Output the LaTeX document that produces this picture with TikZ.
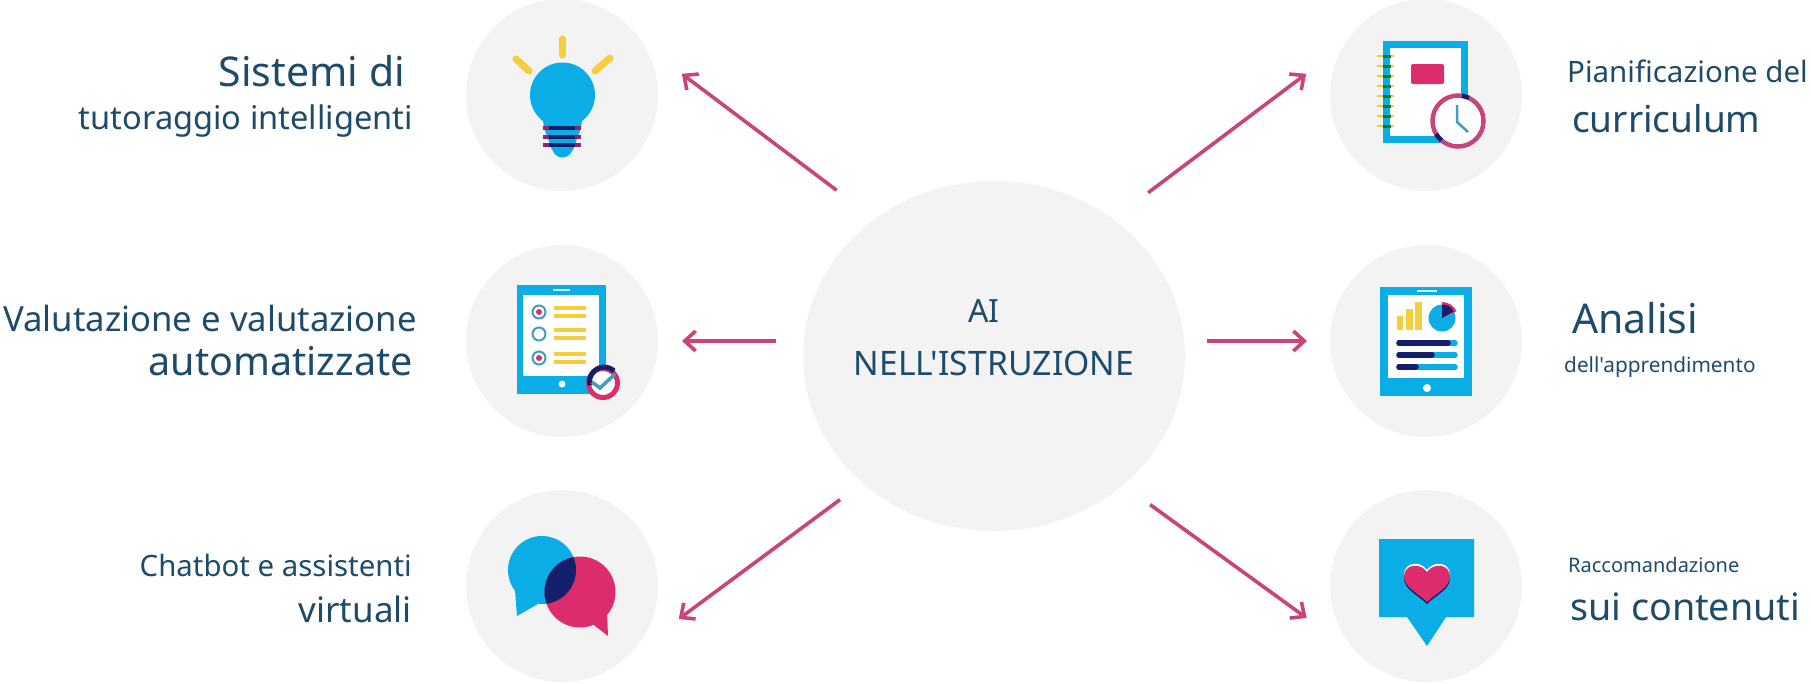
\documentclass[tikz,border=0pt]{standalone}
\usepackage{fontspec}
\setmainfont{Noto Sans}[Ligatures=TeXOff]
\usetikzlibrary{arrows.meta, shapes.geometric}
\definecolor{discgray}{HTML}{F3F3F3}
\definecolor{linkpink}{HTML}{C8447A}
\definecolor{textblue}{HTML}{1E4B6B}
\definecolor{iconblue}{HTML}{0BADE6}
\definecolor{iconpink}{HTML}{DC2C6C}
\definecolor{iconnavy}{HTML}{141F6B}
\definecolor{iconyellow}{HTML}{F4CE3C}
\definecolor{iconteal}{HTML}{3F9DBE}
\newcommand{\heartshape}{(0,-9) .. controls (-7,-19) and (-23,-17) .. (-23,-4) .. controls (-23,6) and (-8,13) .. (0,21) .. controls (8,13) and (23,6) .. (23,-4) .. controls (23,-17) and (7,-19) .. (0,-9) -- cycle}
\newcommand{\sz}[1]{\fontsize{#1}{#1}\selectfont}
\begin{document}
\begin{tikzpicture}[
  x=1pt, y=-1pt,
  disc/.style={circle, fill=discgray, inner sep=0pt, outer sep=0pt, minimum size=192pt},
  hubdisc/.style={ellipse, fill=discgray, inner sep=0pt, outer sep=0pt, minimum width=382pt, minimum height=350pt},
  link/.style={draw=linkpink, line width=3.6pt, -{Straight Barb[length=11pt, width=20pt, line width=3.6pt]}},
  lleft/.style={anchor=base east, inner sep=0pt, text=textblue},
  lright/.style={anchor=base west, inner sep=0pt, text=textblue},
  bar/.style={line width=3.5pt, iconyellow},
  ray/.style={line width=7pt, iconyellow, line cap=round}
]
  \useasboundingbox (0,0) rectangle (1811,683);
  \node[hubdisc] (hub) at (994,356) {};
  \node[disc] (tutor) at (562,95) {};
  \node[disc] (grading) at (562,341) {};
  \node[disc] (chat) at (562,586) {};
  \node[disc] (plan) at (1426,95) {};
  \node[disc] (stats) at (1426,341) {};
  \node[disc] (advice) at (1426,586) {};
  % arrows
  \draw[link, shorten <=48pt, shorten >=47pt] (hub.131) -- (tutor.31.5);
  \draw[link, shorten <=27pt, shorten >=24pt] (grading -| hub.west) -- (grading.east);
  \draw[link, shorten <=28pt, shorten >=75pt] (hub.224.7) -- (chat.306.9);
  \draw[link, shorten <=44pt, shorten >=47pt] (hub.49.5) -- (plan.149.2);
  \draw[link, shorten <=22pt, shorten >=23pt] (stats -| hub.east) -- (stats.west);
  \draw[link, shorten <=33.5pt, shorten >=74.4pt] (hub.315.8) -- (advice.232.7);
  % labels
  \node[inner sep=0pt, anchor=base, text=textblue, font=\sz{32}] (hubtop) at (984,322) {AI};
  \node[inner sep=0pt, anchor=base, text=textblue, font=\sz{33.7}] (hubbot) at (994,375) {NELL'ISTRUZIONE};
  \node[lleft, font=\sz{41}] (tutorA) at (405,86) {Sistemi di};
  \node[lleft, font=\sz{32.6}] (tutorB) at (413,129) {tutoraggio intelligenti};
  \node[lleft, font=\sz{34.7}] (gradingA) at (417,331) {Valutazione e valutazione};
  \node[lleft, font=\sz{39.5}] (gradingB) at (413,375) {automatizzate};
  \node[lleft, font=\sz{29.4}] (chatA) at (412,576) {Chatbot e assistenti};
  \node[lleft, font=\sz{35}] (chatB) at (412,622) {virtuali};
  \node[lright, font=\sz{29.5}] (planA) at (1567,82) {Pianificazione del};
  \node[lright, font=\sz{37}] (planB) at (1572,132) {curriculum};
  \node[lright, font=\sz{41}] (statsA) at (1572,333) {Analisi};
  \node[lright, font=\sz{20.8}] (statsB) at (1564,372) {dell'apprendimento};
  \node[lright, font=\sz{20}] (adviceA) at (1568,572) {Raccomandazione};
  \node[lright, font=\sz{37.7}] (adviceB) at (1570,620) {sui contenuti};
  % bulb
  \draw[ray] (562,39) -- (562,55);
  \draw[ray] (516,59) -- (529,71);
  \draw[ray] (610,58) -- (595,71);
  \fill[iconblue] (562.5,95) circle (32.5);
  \fill[iconblue] (543,120) -- (582,120) -- (581,128) -- (573,150) -- (552,150) -- (544,128) -- cycle;
  \fill[iconblue] (562.5,147) circle (10.5);
  \foreach \yy in {128,137,145} {
    \fill[iconpink!60!iconnavy] (543,\yy-2) rectangle (581,\yy+2);
    \fill[iconnavy] (549,\yy-2) rectangle (575,\yy+2);
  }
  % tablet with checklist
  \fill[iconblue] (517,285) rectangle (606,394);
  \fill[white] (523,295) rectangle (599,376);
  \draw[white!80!iconblue, line width=2pt] (553,290) -- (570,290);
  \fill[white] (562,384) circle (3.5);
  \foreach \yy in {312,334,358} {
    \draw[iconteal, line width=2pt] (539,\yy) circle (6.5);
    \draw[bar] (554,\yy-4) -- (586,\yy-4);
    \draw[bar] (554,\yy+4) -- (586,\yy+4);
  }
  \fill[iconpink] (539,312) circle (3);
  \fill[iconpink] (539,358) circle (3);
  \draw[iconpink, fill=white, line width=5pt] (603,383) circle (14.5);
  \draw[iconnavy, line width=5pt] (614,371) arc (-47:-195:14.5 and 14.5);
  \draw[iconteal, line width=3.5pt] (592,382) -- (600,388) -- (615,374);
  % chat bubbles
  \fill[iconblue] (542,570) circle (34);
  \fill[iconblue] (515,590) -- (517,616) -- (538,604) -- cycle;
  \fill[iconpink] (580,592) circle (35.5);
  \fill[iconpink] (590,622) -- (608,636) -- (607,610) -- cycle;
  \begin{scope}
    \clip (542,570) circle (34);
    \fill[iconnavy] (580,592) circle (35.5);
  \end{scope}
  % notebook with clock
  \fill[white] (1383,41) rectangle (1468,143);
  \draw[iconblue, line width=7pt] (1386.5,44.5) rectangle (1464.5,139.5);
  \foreach \yy in {56,66,...,126} {
    \draw[iconyellow, line width=2.5pt] (1377,\yy) -- (1394,\yy);
    \draw[green!50!black, line width=3pt] (1383,\yy) -- (1391,\yy);
  }
  \fill[iconpink, rounded corners=2pt] (1411,64) rectangle (1444,84);
  \draw[linkpink, fill=white, line width=4.5pt] (1458,121) circle (25.5);
  \draw[iconnavy, line width=4.5pt] (1462,95.8) arc (-81:-65:25.5);
  \draw[iconnavy, line width=4.5pt] (1436,134) arc (149:130:25.5);
  \draw[iconteal, line width=2.5pt] (1457,105) -- (1457,122) -- (1468,132);
  % tablet with charts
  \fill[iconblue] (1380,287) rectangle (1472,396);
  \fill[white] (1388,295) rectangle (1464,378);
  \draw[white!80!iconblue, line width=2.5pt] (1417,291) -- (1437,291);
  \fill[white] (1427,388) circle (4);
  \fill[iconyellow] (1397,316) rectangle (1403,330);
  \fill[iconyellow] (1406,309) rectangle (1413,330);
  \fill[iconyellow] (1415,302) rectangle (1422,330);
  \fill[iconblue] (1442,318) circle (13.5);
  \fill[iconpink] (1442,318) -- (1442,302) arc (-90:-25:16) -- cycle;
  \fill[iconnavy] (1442,318) -- (1442,304.5) arc (-90:-30:13.5) -- cycle;
  \foreach \yy/\xx in {343/1448,355/1432,367/1416} {
    \draw[iconblue, line width=5.5pt, line cap=round] (1399,\yy) -- (1455,\yy);
    \draw[iconnavy, line width=5.5pt, line cap=round] (1399,\yy) -- (\xx,\yy);
  }
  % bubble with heart
  \fill[iconblue] (1379,539) -- (1474,539) -- (1474,617) -- (1446,617) -- (1427,646) -- (1407,617) -- (1379,617) -- cycle;
  \fill[white, shift={(1427,579)}] \heartshape;
  \fill[iconnavy, shift={(1427,583)}] \heartshape;
  \fill[iconpink, shift={(1427,581)}] \heartshape;
\end{tikzpicture}
\end{document}
